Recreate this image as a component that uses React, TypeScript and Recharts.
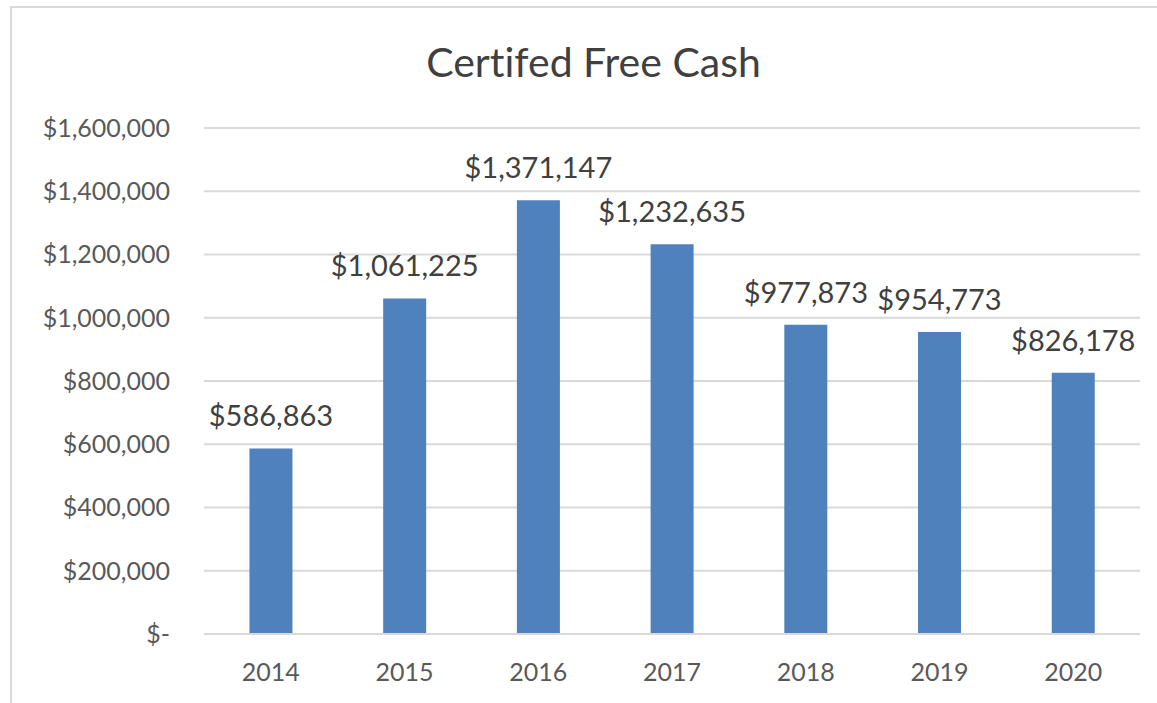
import React from 'react';
import { BarChart, Bar, XAxis, YAxis, CartesianGrid, LabelList } from 'recharts';

const years = ['2014', '2015', '2016', '2017', '2018', '2019', '2020'];
const freeCash = [586863, 1061225, 1371147, 1232635, 977873, 954773, 826178];
const yTicks = [0, 200000, 400000, 600000, 800000, 1000000, 1200000, 1400000, 1600000];

const data = years.map((year, i) => ({ year, value: freeCash[i] }));

const money = (v: number) => (v === 0 ? '$-' : '$' + v.toLocaleString('en-US'));

const font = 'Lato, "Noto Sans", sans-serif';

export default function App() {
  return (
    <div style={{ position: 'absolute', left: 0, top: 0, width: 1157, height: 703, background: '#fff', fontFamily: font }}>
      <div
        style={{
          position: 'absolute',
          left: 10,
          top: 6,
          width: 1160,
          height: 710,
          border: '2px solid #D9D9D9',
        }}
      />
      <div
        style={{
          position: 'absolute',
          left: 0,
          width: 1187,
          top: 37,
          textAlign: 'center',
          fontSize: 41,
          color: '#404040',
          fontVariantLigatures: 'none',
        }}
      >
        Certifed Free Cash
      </div>
      <div style={{ position: 'absolute', left: 0, top: 0 }}>
        <BarChart
          width={1157}
          height={703}
          data={data}
          margin={{ top: 128, right: 17, left: 0, bottom: 9 }}
          barCategoryGap="34%"
        >
          <CartesianGrid vertical={false} stroke="#D9D9D9" strokeWidth={2} />
          <XAxis
            dataKey="year"
            axisLine={{ stroke: '#D9D9D9', strokeWidth: 2 }}
            tickLine={false}
            tickSize={0}
            tickMargin={29}
            height={60}
            tick={{ fill: '#595959', fontSize: 25, fontFamily: font }}
          />
          <YAxis
            domain={[0, 1600000]}
            ticks={yTicks}
            interval={0}
            axisLine={false}
            tickLine={false}
            tickSize={0}
            tickMargin={34}
            width={204}
            tickFormatter={money}
            tick={{ fill: '#595959', fontSize: 25, fontFamily: font }}
          />
          <Bar dataKey="value" fill="#4F81BD" isAnimationActive={false}>
            <LabelList
              dataKey="value"
              position="top"
              offset={22}
              formatter={(v: any) => money(Number(v))}
              style={{ fill: '#404040', fontSize: 29, fontFamily: font }}
            />
          </Bar>
        </BarChart>
      </div>
    </div>
  );
}
